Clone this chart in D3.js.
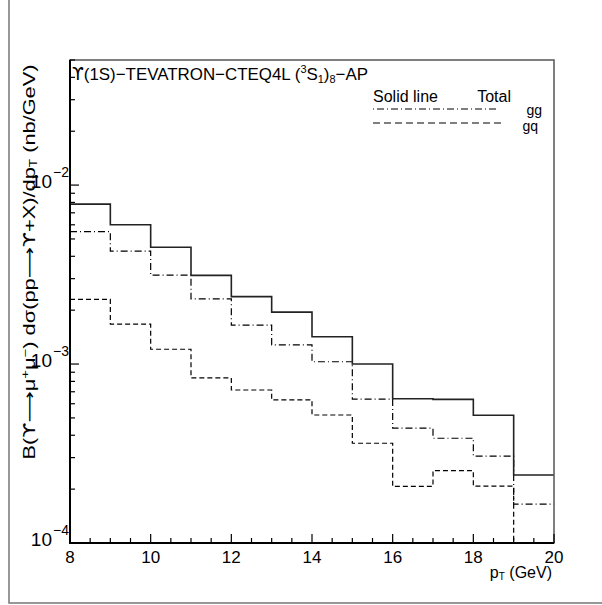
<!DOCTYPE html>
<html><head><meta charset="utf-8">
<script src="https://cdn.jsdelivr.net/npm/d3@7"></script>
<style>body{margin:0;background:#fff;overflow:hidden}svg{display:block}text{font-family:"Liberation Sans",Arial,sans-serif;fill:#000}.dj{font-family:"DejaVu Sans",sans-serif}</style>
</head><body><svg id="c" width="602" height="605"></svg>
<script>
// bin lower edges (GeV)
const binEdges = [8,9,10,11,12,13,14,15,16,17,18,19];
const binEnd = 20;
// nb/GeV
const totalVals = [7.83e-3,6.0e-3,4.49e-3,3.13e-3,2.38e-3,1.95e-3,1.42e-3,1.0e-3,6.40e-4,6.35e-4,5.17e-4,2.40e-4];
const ggVals    = [5.49e-3,4.28e-3,3.14e-3,2.31e-3,1.65e-3,1.28e-3,1.03e-3,6.37e-4,4.38e-4,3.85e-4,3.06e-4,1.65e-4];
const gqVals    = [2.30e-3,1.67e-3,1.21e-3,8.36e-4,7.16e-4,6.30e-4,5.19e-4,3.61e-4,2.07e-4,2.54e-4,2.08e-4,7.5e-5];
const xTickLabels = [8,10,12,14,16,18,20];
const yDecades = [-2,-3,-4];

const svg = d3.select("#c");
const L=70,R=554,T=60,B=543;
const x = d3.scaleLinear().domain([8,20]).range([L,R]);
const y = d3.scaleLog().domain([1e-4,5e-2]).range([B,T]).clamp(true);

// outer border
svg.append("path").attr("d",`M9,0V603H602`).attr("fill","none").attr("stroke","#777").attr("stroke-width",1.5);

svg.append("clipPath").attr("id","pc").append("rect").attr("x",L).attr("y",T).attr("width",R-L).attr("height",B-T);

function hist(vals, style){
  const pts = binEdges.map((e,i)=>[e,vals[i]]);
  pts.push([binEnd, vals[vals.length-1]]);
  const line = d3.line().x(d=>x(d[0])).y(d=>y(d[1])).curve(d3.curveStepAfter);
  const p = svg.append("path").attr("d",line(pts)).attr("fill","none")
    .attr("clip-path","url(#pc)").attr("stroke",style.color).attr("stroke-width",style.w);
  if(style.dash) p.attr("stroke-dasharray",style.dash);
}
hist(gqVals,{color:"#000",w:1.2,dash:"5,3"});
hist(ggVals,{color:"#000",w:1.2,dash:"7,3,1,3"});
hist(totalVals,{color:"#222",w:1.6});

// frame
svg.append("rect").attr("x",L).attr("y",T).attr("width",R-L).attr("height",B-T)
  .attr("fill","none").attr("stroke","#555").attr("stroke-width",1.5);
svg.append("path").attr("d",`M${L},${T}V${B}H${R}`).attr("fill","none").attr("stroke","#000").attr("stroke-width",2);

// x ticks
const xt = svg.append("g");
for(let v=8; v<=20.001; v+=0.5){
  const major = Math.abs(v-Math.round(v/2)*2)<1e-6;
  xt.append("line").attr("x1",x(v)).attr("x2",x(v)).attr("y1",B).attr("y2",B-(major?9:5)).attr("stroke","#000").attr("stroke-width",1.2);
}
xTickLabels.forEach(v=>{
  svg.append("text").attr("x",x(v)).attr("y",563).attr("text-anchor","middle").attr("font-size",17).text(v);
});
svg.append("text").attr("x",552).attr("y",578).attr("text-anchor","end").attr("font-size",16)
  .html('p<tspan font-size="10" dy="2">T</tspan><tspan dy="-2"> (GeV)</tspan>');

// y ticks
const yt = svg.append("g");
[-4,-3,-2].forEach(d=>{
  for(let m=1;m<=9;m++){
    const v = m*Math.pow(10,d);
    if(v>5e-2) continue;
    yt.append("line").attr("x1",L).attr("x2",L+(m===1?9:5)).attr("y1",y(v)).attr("y2",y(v)).attr("stroke","#000").attr("stroke-width",1.2);
  }
});
yDecades.forEach(d=>{
  const yy = y(Math.pow(10,d));
  svg.append("text").attr("x",52).attr("y",yy+3).attr("text-anchor","end").attr("font-size",19).text("10");
  svg.append("text").attr("x",53).attr("y",yy-8).attr("font-size",14).text("\u2212"+(-d));
});

// y label
svg.append("text").attr("transform","translate(35,262) rotate(-90)").attr("text-anchor","middle").attr("font-size",16)
  .attr("textLength",395).attr("lengthAdjust","spacingAndGlyphs")
  .html('B(<tspan class="dj">\u03d2\u27f6</tspan>\u03bc<tspan font-size="11" dy="-6">+</tspan><tspan dy="6">\u03bc</tspan><tspan font-size="11" dy="-6">\u2212</tspan><tspan dy="6">) d\u03c3(pp</tspan><tspan class="dj">\u27f6\u03d2</tspan>+X)/dp<tspan font-size="10" dy="2">T</tspan><tspan dy="-2"> (nb/GeV)</tspan>');

// title
svg.append("text").attr("x",72).attr("y",80).attr("font-size",17)
  .attr("textLength",296).attr("lengthAdjust","spacingAndGlyphs")
  .html('<tspan class="dj">\u03d2</tspan>(1S)\u2212TEVATRON\u2212CTEQ4L (<tspan font-size="11" dy="-7">3</tspan><tspan dy="7">S</tspan><tspan font-size="11" dy="3">1</tspan><tspan dy="-3">)</tspan><tspan font-size="11" dy="3">8</tspan><tspan dy="-3">\u2212AP</tspan>');

// legend
svg.append("text").attr("x",373).attr("y",102).attr("font-size",16).text("Solid line");
svg.append("text").attr("x",511).attr("y",102).attr("text-anchor","end").attr("font-size",16).text("Total");
svg.append("line").attr("x1",373).attr("x2",497).attr("y1",109).attr("y2",109).attr("stroke","#000").attr("stroke-width",1.2).attr("stroke-dasharray","1,3,7,3");
svg.append("line").attr("x1",373).attr("x2",505).attr("y1",123).attr("y2",123).attr("stroke","#000").attr("stroke-width",1.2).attr("stroke-dasharray","7,4");
svg.append("text").attr("x",542).attr("y",115).attr("text-anchor","end").attr("font-size",14).text("gg");
svg.append("text").attr("x",538).attr("y",131).attr("text-anchor","end").attr("font-size",14).text("gq");
</script></body></html>
